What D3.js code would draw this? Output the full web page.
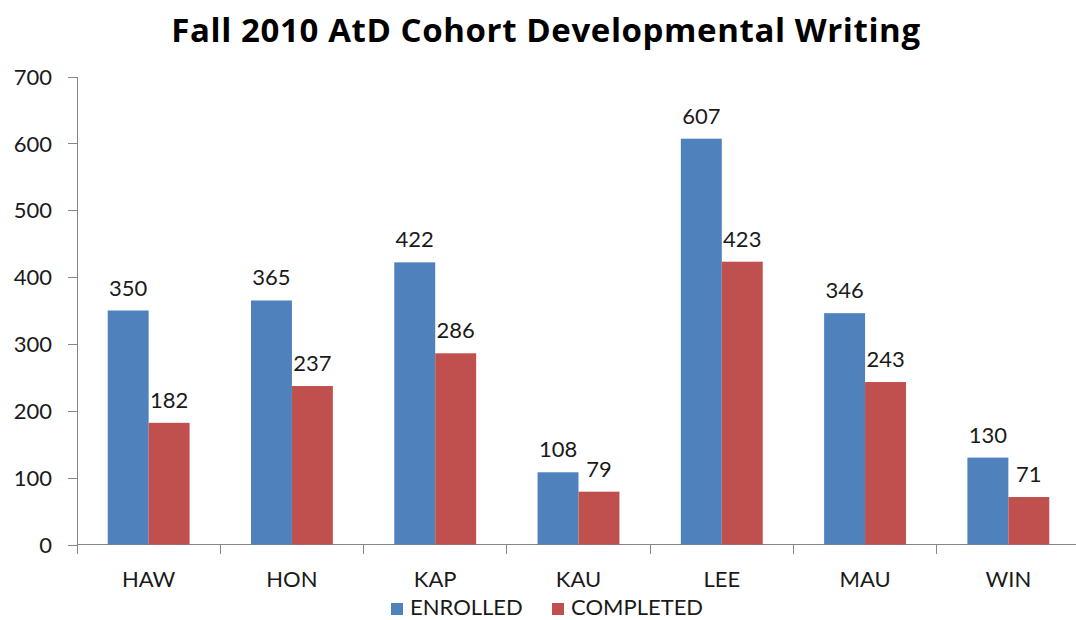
<!DOCTYPE html>
<html>
<head>
<meta charset="utf-8">
<script src="https://d3js.org/d3.v7.min.js"></script>
<style>
body { margin: 0; background: #fff; }
svg text { font-family: Lato, "Open Sans", sans-serif; fill: #1a1a1a; }
.axis path, .axis line { stroke: #868686; stroke-width: 1; shape-rendering: crispEdges; }
</style>
</head>
<body>
<svg id="chart" width="1076" height="620"></svg>
<script>
// chart values
var campuses = ["HAW", "HON", "KAP", "KAU", "LEE", "MAU", "WIN"];
var enrolled = [350, 365, 422, 108, 607, 346, 130];
var completed = [182, 237, 286, 79, 423, 243, 71];
var seriesNames = ["ENROLLED", "COMPLETED"];
var colors = ["#4F81BD", "#C0504D"];
var yTicks = [0, 100, 200, 300, 400, 500, 600, 700];

var svg = d3.select("#chart");
var mLeft = 77, mRight = 1080, mTop = 76.5, mBottom = 544.5;

var x = d3.scaleBand().domain(campuses).range([mLeft, mRight]);
// gap width 150% -> each bar is band / 3.5
var barW = x.bandwidth() / 3.5;
var y = d3.scaleLinear().domain([0, 700]).range([mBottom, mTop]);

// title
svg.append("text")
    .attr("x", 546).attr("y", 42)
    .attr("text-anchor", "middle")
    .style("font-family", "'Open Sans', sans-serif")
    .style("font-size", "33px").style("font-weight", "bold")
    .style("letter-spacing", "0.6px")
    .style("fill", "#000")
    .text("Fall 2010 AtD Cohort Developmental Writing");

// y axis
var yAxis = svg.append("g").attr("class", "axis")
    .attr("transform", "translate(" + mLeft + ",0)")
    .call(d3.axisLeft(y).tickValues(yTicks).tickSize(9).tickPadding(16).tickSizeOuter(0));
yAxis.selectAll("text").style("font-size", "22px").attr("dy", "0.35em");

// x axis with ticks between categories
var xAxisG = svg.append("g").attr("class", "axis");
xAxisG.append("line")
    .attr("x1", mLeft).attr("x2", mRight)
    .attr("y1", mBottom).attr("y2", mBottom);
xAxisG.selectAll(".sep")
    .data(campuses)
    .enter().append("line")
    .attr("x1", function(d) { return x(d); })
    .attr("x2", function(d) { return x(d); })
    .attr("y1", mBottom).attr("y2", mBottom + 9);
xAxisG.selectAll(".cat")
    .data(campuses)
    .enter().append("text")
    .attr("x", function(d) { return x(d) + x.bandwidth() / 2; })
    .attr("y", mBottom + 42)
    .attr("text-anchor", "middle")
    .style("font-size", "22px")
    .text(function(d) { return d; });

// bars
var series = [enrolled, completed];
series.forEach(function(vals, s) {
    var g = svg.append("g");
    g.selectAll("rect")
        .data(vals)
        .enter().append("rect")
        .attr("x", function(d, i) { return x(campuses[i]) + x.bandwidth() / 2 - barW + s * barW; })
        .attr("y", function(d) { return y(d); })
        .attr("width", barW)
        .attr("height", function(d) { return mBottom - y(d); })
        .attr("fill", colors[s]);
    g.selectAll("text")
        .data(vals)
        .enter().append("text")
        .attr("x", function(d, i) { return x(campuses[i]) + x.bandwidth() / 2 - barW / 2 + s * barW; })
        .attr("y", function(d) { return y(d) - 15; })
        .attr("text-anchor", "middle")
        .style("font-size", "22px")
        .text(function(d) { return d; });
});

// legend
var legendX = [391, 552];
seriesNames.forEach(function(name, s) {
    svg.append("rect")
        .attr("x", legendX[s]).attr("y", 603)
        .attr("width", 12).attr("height", 12)
        .attr("fill", colors[s]);
    svg.append("text")
        .attr("x", legendX[s] + 19).attr("y", 615)
        .style("font-size", "22px")
        .text(name);
});
</script>
</body>
</html>
